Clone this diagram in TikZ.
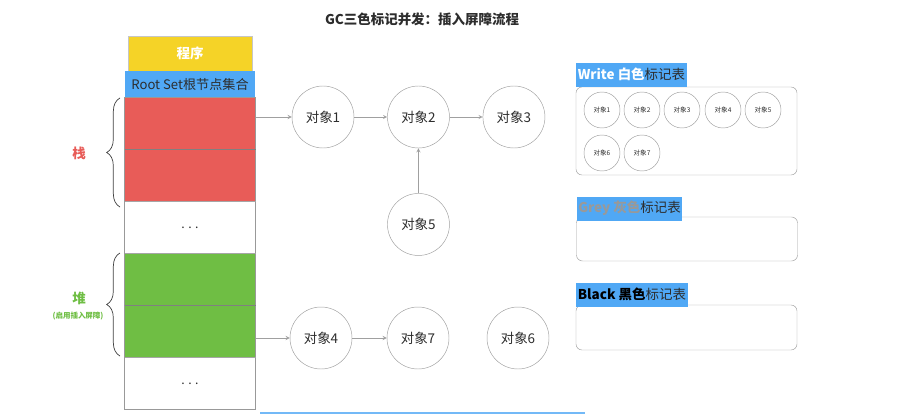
\documentclass[tikz,border=0pt]{standalone}
\usepackage{fontspec}
\setmainfont{Noto Sans CJK SC}
\usepackage{tikz}
\usetikzlibrary{arrows, positioning, decorations.pathreplacing}
\definecolor{progyellow}{RGB}{245,211,39}
\definecolor{rootblue}{RGB}{80,168,245}
\definecolor{stackred}{RGB}{232,92,88}
\definecolor{heapgreen}{RGB}{111,190,68}
\definecolor{edgegray}{RGB}{160,160,160}
\definecolor{textdark}{RGB}{45,45,45}

\begin{document}
\begin{tikzpicture}[x=.3mm,y=-.3mm,>=stealth,node distance=9.9mm,
  every node/.style={font=\fontsize{10.5}{12}\selectfont,text=textdark},
  slot/.style={draw=black!40,line width=.6pt,minimum width=39.3mm,
    minimum height=15.6mm,inner sep=0pt,outer sep=0pt},
  obj/.style={circle,draw=edgegray,minimum size=18.6mm,inner sep=0pt,
    font=\fontsize{11.5}{12}\selectfont},
  mini/.style={circle,draw=edgegray,minimum size=10.8mm,inner sep=0pt,
    font=\fontsize{5.6}{6}\selectfont},
  tag/.style={fill=rootblue,anchor=south west,inner xsep=1.5pt,inner ysep=0pt,
    minimum height=7.2mm,font=\fontsize{11.5}{12}\selectfont},
  marktable/.style={draw=edgegray,rounded corners=1.8mm,minimum width=66.3mm},
  link/.style={->,draw=edgegray,line width=.6pt}]
 \useasboundingbox (0,0) rectangle (908,414);
 \node[font=\bfseries\fontsize{11.5}{12}\selectfont] (title) at (422,19)
   {GC三色标记并发：插入屏障流程};
 % stack column
 \node[slot,fill=progyellow,draw=edgegray!60,minimum width=37.2mm,
   minimum height=10.5mm,text=white,font=\bfseries\fontsize{11.5}{12}\selectfont]
   (prog) at (190,53.5) {程序};
 \node[fill=rootblue,minimum width=39mm,minimum height=7.8mm,inner sep=0pt,
   font=\fontsize{11.2}{12}\selectfont,below=0pt of prog] (root)
   {Root Set根节点集合};
 \node[slot,fill=stackred,below=0pt of root] (stack1) {};
 \node[slot,fill=stackred,below=0pt of stack1] (stack2) {};
 \node[slot,below=0pt of stack2] (gap1) {.\hspace{3pt}.\hspace{3pt}.};
 \node[slot,fill=heapgreen,below=0pt of gap1] (heap1) {};
 \node[slot,fill=heapgreen,below=0pt of heap1] (heap2) {};
 \node[slot,below=0pt of heap2] (gap2) {.\hspace{3pt}.\hspace{3pt}.};
 % separators hidden by the next fill
 \draw[black!50,line width=1pt] (stack1.south west) -- (stack1.south east);
 \draw[black!35,line width=.6pt] (stack2.south west) -- (stack2.south east);
 \draw[black!35,line width=.6pt] (gap1.south west) -- (gap1.south east);
 \draw[black!50,line width=1pt] (heap1.south west) -- (heap1.south east);
 \draw[black!35,line width=.6pt] (heap2.south west) -- (heap2.south east);
 \draw[decorate,decoration={brace,amplitude=4mm},line width=.6pt,black!75]
   (120,207) -- (120,98);
 \draw[decorate,decoration={brace,amplitude=4mm},line width=.6pt,black!75]
   (120,356) -- (120,253);
 \node[text=stackred,font=\bfseries\fontsize{11.5}{12}\selectfont] (stacklbl)
   at (79,153) {栈};
 \node[text=heapgreen,font=\bfseries\fontsize{11.5}{12}\selectfont] (heaplbl)
   at (79,298) {堆};
 \node[text=heapgreen,font=\bfseries\fontsize{6.4}{7}\selectfont] (heapnote)
   at (78,316) {(启用插入屏障)};
 % objects
 \node[obj] (o1) at (323,117) {对象1};
 \node[obj,right=of o1] (o2) {对象2};
 \node[obj,right=of o2] (o3) {对象3};
 \node[obj,below=13.5mm of o2] (o5) {对象5};
 \node[obj] (o4) at (321,338) {对象4};
 \node[obj] (o7) at (418,338) {对象7};
 \node[obj] (o6) at (518,338) {对象6};
 \draw[link] (stack1.east |- o1) -- (o1);
 \draw[link] (o1) -- (o2);
 \draw[link] (o2) -- (o3);
 \draw[link] (o5) -- (o2);
 \draw[link] (heap2.east |- o4) -- (o4);
 \draw[link] (o4) -- (o7);
 % mark tables
 \node[marktable,minimum height=26.4mm] (whitetbl) at (686.5,131) {};
 \node[tag] (whitetag) at (whitetbl.north west)
   {{\bfseries\color{white}Write 白色}标记表};
 \node[mini] (w1) at (602,110) {对象1};
 \node[mini] (w2) at (642,110) {对象2};
 \node[mini] (w3) at (682,110) {对象3};
 \node[mini] (w4) at (723,110) {对象4};
 \node[mini] (w5) at (763,110) {对象5};
 \node[mini] (w6) at (602,153) {对象6};
 \node[mini] (w7) at (642,153) {对象7};
 \node[marktable,minimum height=13.2mm] (greytbl) at (687,239) {};
 \node[tag] (greytag) at ([yshift=-1.2mm]greytbl.north west)
   {{\bfseries\color{black!40}Grey 灰色}标记表};
 \node[marktable,minimum height=13.5mm] (blacktbl) at (686.5,327.5) {};
 \node[tag] (blacktag) at ([yshift=-.6mm]blacktbl.north west)
   {{\bfseries\color{black}Black 黑色}标记表};
 \draw[rootblue!80,line width=1pt] (260,413) -- (585,413);
\end{tikzpicture}
\end{document}
